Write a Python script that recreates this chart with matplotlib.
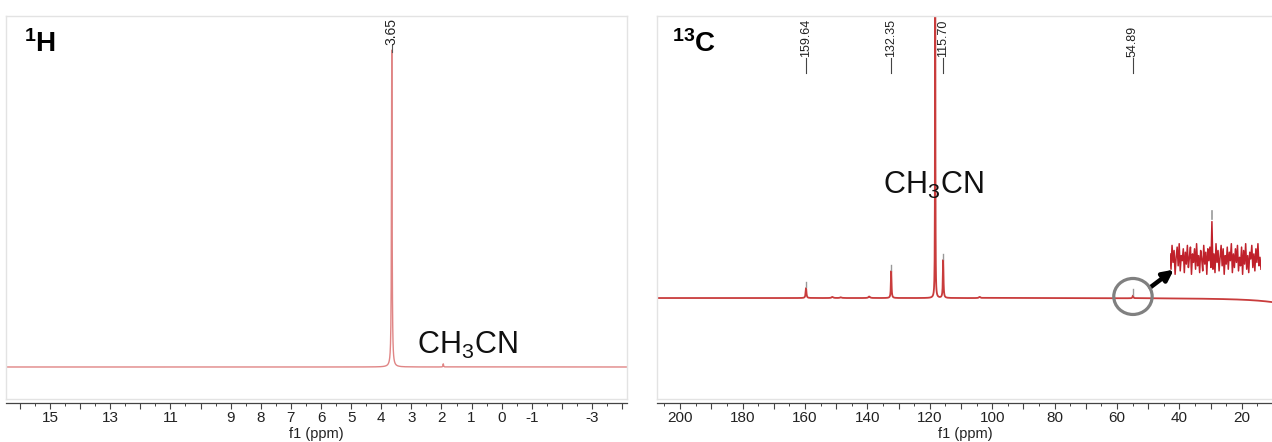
import numpy as np
import matplotlib
matplotlib.use("Agg")
import matplotlib.pyplot as plt
from matplotlib.ticker import FixedLocator, MultipleLocator
from matplotlib.patches import Ellipse

plt.rcParams['font.family'] = ['Liberation Sans', 'DejaVu Sans']
plt.rcParams['mathtext.fontset'] = 'custom'
plt.rcParams['mathtext.rm'] = 'Liberation Sans'
plt.rcParams['mathtext.it'] = 'Liberation Sans:italic'
plt.rcParams['mathtext.bf'] = 'Liberation Sans:bold'

# ---------------- data ----------------
# 1H spectrum: peak centre (ppm), relative height, half width (ppm)
h_centers = [3.65, 1.94]
h_heights = [1.0, 0.010]
h_widths = [0.012, 0.010]
h_labels = ["3.65"]
h_label_pos = [3.65]
h_xlim = (16.46, -4.16)
h_ticks = [16, 15, 14, 13, 12, 11, 10, 9, 8, 7, 6, 5, 4, 3, 2, 1, 0, -1, -2, -3, -4]
h_ticklabels = ["", "15", "", "13", "", "11", "", "9", "8", "7", "6", "5", "4",
                "3", "2", "1", "0", "-1", "", "-3", ""]

# 13C spectrum
c_centers = [159.64, 151.2, 148.5, 139.4, 132.35, 118.26, 115.70, 104.0, 54.89, 0.0]
c_heights = [0.026, 0.003, 0.002, 0.004, 0.0705, 1.5, 0.099, 0.003, 0.007, -0.022]
c_widths = [0.15, 0.3, 0.3, 0.3, 0.12, 0.05, 0.12, 0.3, 0.15, 10.0]
c_labels = ["159.64", "132.35", "115.70", "54.89"]
c_label_pos = [159.64, 132.35, 115.70, 54.89]
c_label_peak_h = [0.026, 0.0705, 0.099, 0.007]
c_xlim = (207.4, 9.7)
c_ticks = list(range(200, 0, -10))
c_ticklabels = [str(t) if t % 20 == 0 else "" for t in c_ticks]

# zoomed noise near 54.89 ppm (inset)
inset_noise = [0.3, -0.6, 0.8, -0.2, 0.5, -0.9, 0.1, 0.7, -0.4, 0.9, -0.7, 0.2, -0.1,
               0.6, -0.8, 0.4, -0.3, 0.8, -0.5, 0.1, 0.7, -0.9, 0.3, -0.2, 0.6, -0.6,
               0.9, -0.4, 0.2, -0.8, 0.5, 0.0, -0.7, 0.8, -0.3, 0.4, -0.9, 0.6, -0.1,
               0.7, -0.5, 2.2, -0.6, 0.3, -0.8, 0.9, -0.2, 0.5, -0.7, 0.1, 0.8, -0.4,
               0.6, -0.9, 0.2, -0.3, 0.7, -0.6, 0.4, -0.1, 0.9, -0.8, 0.3, -0.5, 0.6,
               -0.2, 0.8, -0.7, 0.1, -0.4, 0.7, -0.9, 0.5, -0.3, 0.9, -0.6, 0.2, -0.8,
               0.4, 0.0, 0.8, -0.5, 0.3, -0.7, 0.6, -0.2, 0.9, -0.4, 0.1, -0.6]
inset_spike_index = 41


def spectrum(x, centers, heights, widths):
    y = np.zeros_like(x)
    for c, h, w in zip(centers, heights, widths):
        y += h / (1.0 + ((x - c) / w) ** 2)
    return y


W, H = 1272, 442
fig = plt.figure(figsize=(W / 100, H / 100), dpi=100)

box_bottom = (H - 399) / H
box_h = (399 - 16) / H
frame_col = '#e3e3e3'
axis_col = '#444444'


def setup(ax, xlim, ticks, ticklabels, minor):
    ax.set_xlim(*xlim)
    ax.tick_params(bottom=False, labelbottom=False, left=False, labelleft=False)
    for s in ax.spines.values():
        s.set_color(frame_col)
        s.set_linewidth(1.0)
    sec = ax.secondary_xaxis(-0.0105)
    sec.spines['bottom'].set_color(axis_col)
    sec.spines['bottom'].set_linewidth(0.9)
    sec.xaxis.set_major_locator(FixedLocator(ticks))
    sec.set_xticklabels(ticklabels)
    sec.xaxis.set_minor_locator(MultipleLocator(minor))
    sec.tick_params(which='major', length=4, width=0.8, color=axis_col,
                    labelsize=11, pad=2, labelcolor='#222222')
    sec.tick_params(which='minor', length=2.5, width=0.7, color=axis_col)
    sec.set_xlabel('f1 (ppm)', fontsize=10.5, labelpad=1, color='#222222')
    return sec


# ---------------- 1H ----------------
ax1 = fig.add_axes([6 / W, box_bottom, 621 / W, box_h])
x1 = np.arange(-4.5, 16.8, 0.0005)
y1 = spectrum(x1, h_centers, h_heights, h_widths)
ax1.plot(x1, y1, color='#e08585', lw=1.0)
ax1.set_ylim(-0.101, 1.1075)
setup(ax1, h_xlim, h_ticks, h_ticklabels, 0.5)
tr1 = ax1.get_xaxis_transform()
for lab, pos in zip(h_labels, h_label_pos):
    ax1.text(pos, 0.924, lab, rotation=90, ha='center', va='bottom',
             fontsize=10, transform=tr1, color='#222222')
    ax1.plot([pos, pos], [0.906, 0.924], color='#555555', lw=0.8, transform=tr1)
ax1.text(0.029, 0.906, r'$\mathbf{^{1}H}$', transform=ax1.transAxes,
         fontsize=20, va='baseline', ha='left')
ax1.text(2.81, 0.1175, r'CH$_3$CN', transform=tr1, fontsize=22,
         va='baseline', ha='left', color='#111111')

# ---------------- 13C ----------------
ax2 = fig.add_axes([657 / W, box_bottom, (W - 657 + 2) / W, box_h])
x2 = np.arange(5, 210, 0.005)
y2 = spectrum(x2, c_centers, c_heights, c_widths)
ax2.plot(x2, y2, color='#c93c3c', lw=1.3)
ax2.set_ylim(-0.2637, 0.7363)
setup(ax2, c_xlim, c_ticks, c_ticklabels, 5)
tr2 = ax2.get_xaxis_transform()
for lab, pos, ph in zip(c_labels, c_label_pos, c_label_peak_h):
    ax2.text(pos, 0.893, lab, rotation=90, ha='center', va='bottom',
             fontsize=9, transform=tr2, color='#222222')
    ax2.plot([pos, pos], [0.851, 0.891], color='#444444', lw=0.8, transform=tr2)
    # peak pick marker
    ax2.plot([pos, pos], [ph + 0.002, ph + 0.016], color='#999999', lw=1.0)
ax2.text(0.0244, 0.906, r'$\mathbf{^{13}C}$', transform=ax2.transAxes,
         fontsize=20, va='baseline', ha='left')
ax2.text(134.9, 0.535, r'CH$_3$CN', transform=tr2, fontsize=22,
         va='baseline', ha='left', color='#111111')

# circle around 54.89 and arrow
ax2.add_patch(Ellipse((54.89, 0.004), width=12.3, height=0.094, fill=False,
                      edgecolor='#808080', lw=2.3, zorder=5))
ax2.annotate('', xy=(41.8, 0.074), xytext=(49.3, 0.028),
             arrowprops=dict(arrowstyle='-|>', color='black', lw=3.2,
                             mutation_scale=16, shrinkA=0, shrinkB=0))

# inset noise
axin = fig.add_axes([1170 / W, (H - 280) / H, 91 / W, 72 / H])
xn = np.arange(len(inset_noise))
axin.plot(xn, inset_noise, color='#c0212b', lw=1.1)
axin.plot([inset_spike_index, inset_spike_index], [2.35, 2.8], color='#999999', lw=1.2)
axin.set_xlim(0, len(inset_noise) - 1)
axin.set_ylim(-1.235, 3.0)
axin.axis('off')

fig.savefig('out.png', dpi=100)
